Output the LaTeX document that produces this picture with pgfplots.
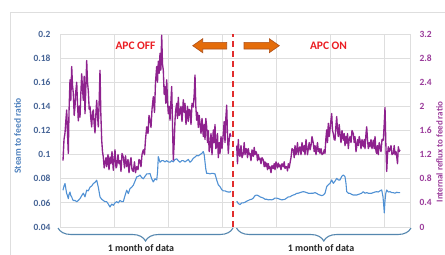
\documentclass[border=0pt]{standalone}
\usepackage{pgfplots}
\pgfplotsset{compat=1.18}
\usepackage{fontspec}
\setmainfont{Carlito}
\usetikzlibrary{decorations.pathreplacing}
\definecolor{purp}{RGB}{142,34,142}
\definecolor{rpurp}{RGB}{155,60,155}
\definecolor{bline}{RGB}{80,145,212}
\definecolor{lblue}{RGB}{70,100,150}
\definecolor{ylab}{RGB}{80,130,190}
\definecolor{gridc}{RGB}{222,222,222}
\definecolor{redt}{RGB}{235,30,35}
\definecolor{dashr}{RGB}{225,45,45}
\definecolor{orf}{RGB}{228,108,10}
\definecolor{ord}{RGB}{175,80,25}
\definecolor{brc}{RGB}{85,135,175}

\pgfplotstableread{
x y
63 0.0705
64 0.074
65 0.076
66 0.071
66.7 0.0677
67.5 0.066
68.3 0.0635
69 0.067
70 0.069
70.8 0.066
71.7 0.065
72.5 0.063
73.3 0.062
75 0.062
76.7 0.061
78.3 0.062
80 0.0635
81.7 0.066
83.3 0.068
85 0.065
86.7 0.0705
88.3 0.070
90 0.073
91.7 0.074
93.3 0.076
95 0.077
96.7 0.0788
98.3 0.073
100 0.065
101.7 0.063
103.3 0.062
105 0.061
106.7 0.061
108.3 0.059
110 0.0566
111.7 0.059
113.3 0.058
115 0.060
116.7 0.061
118.3 0.060
120 0.062
121.7 0.061
123.3 0.061
125 0.066
126.7 0.0705
128.3 0.0677
130 0.0718
131.7 0.073
133.3 0.0746
135 0.078
136.7 0.0815
138.3 0.082
140 0.083
141.7 0.081
143.3 0.080
145 0.082
146.7 0.084
148.3 0.084
150 0.0844
151.7 0.080
153.3 0.0774
155 0.080
156.7 0.079
157.5 0.085
158.3 0.0983
160 0.0937
161.7 0.095
163.3 0.095
165 0.094
166.7 0.095
168.3 0.094
170 0.0937
171.7 0.095
173.3 0.094
175 0.096
176.7 0.0965
178.3 0.095
180 0.0937
181.7 0.095
183.3 0.095
185 0.094
186.7 0.095
188.3 0.096
190 0.0937
191.7 0.095
193.3 0.097
195 0.098
196.7 0.0993
198.3 0.099
200 0.1
201.7 0.101
203.3 0.1025
204.2 0.100
205 0.094
205.8 0.088
206.7 0.0844
208.3 0.0845
210 0.084
211.7 0.0845
213.3 0.0844
215 0.084
216.7 0.079
218.3 0.075
220 0.0735
221.7 0.071
223.3 0.070
225 0.070
226.7 0.0693
228.3 0.069
230 0.069
231 0.0695
}\blueA

\pgfplotstableread{
x y
236.7 0.0614
238.3 0.0595
240 0.0586
241.7 0.060
243.3 0.060
245 0.0605
246.7 0.0614
248.3 0.062
250 0.0627
251.7 0.063
253.3 0.064
255 0.066
256.7 0.0665
258.3 0.066
260 0.065
261.7 0.0645
263.3 0.064
265 0.063
266.7 0.063
268.3 0.0625
270 0.0627
271.7 0.0625
273.3 0.063
275 0.064
276.7 0.064
278.3 0.0635
280 0.063
281.7 0.0625
283.3 0.0627
285 0.063
286.7 0.064
288.3 0.065
290 0.065
291.7 0.066
293.3 0.0665
295 0.067
296.7 0.0679
298.3 0.068
300 0.0685
301.7 0.069
303.3 0.0693
305 0.069
306.7 0.0685
308.3 0.068
310 0.0679
311.7 0.068
313.3 0.068
315 0.0685
316.7 0.0679
318.3 0.067
320 0.0665
321.7 0.066
323.3 0.0665
325 0.068
326.7 0.0735
328.3 0.075
330 0.0762
331.7 0.079
333.3 0.0762
335 0.078
336.7 0.0803
338.3 0.079
340 0.079
341.7 0.082
343.3 0.0831
345 0.0817
346 0.076
346.7 0.0693
348.3 0.068
350 0.0679
351.7 0.067
353.3 0.0665
355 0.0665
356.7 0.0665
358.3 0.067
360 0.0675
361.7 0.068
363.3 0.0693
365 0.068
366.7 0.0685
368.3 0.068
370 0.0679
371.7 0.068
373.3 0.0685
375 0.069
376.7 0.0693
378.3 0.069
380 0.070
381.7 0.0707
383 0.065
383.7 0.058
384.3 0.0517
385 0.062
385.8 0.068
386.7 0.0707
388.3 0.069
390 0.0693
391.7 0.0685
393.3 0.0685
395 0.068
396.7 0.0688
398.3 0.0685
400 0.0685
}\blueB

\pgfplotstableread{
x y
63 1.10
64 1.45
65 1.56
66 1.80
66.7 1.94
67.5 1.55
68.3 1.22
69 1.90
70 2.44
70.8 2.10
71.7 2.66
72.5 2.35
73.3 2.22
74.2 1.85
75 2.0
75.8 2.25
76.7 2.4
77.5 2.05
78.3 1.76
79.2 2.0
80 1.82
80.8 2.2
81.7 2.54
82.5 2.3
83.3 2.10
84.2 2.5
85 1.88
85.8 2.3
86.7 2.76
87.5 2.4
88.3 2.26
89.2 1.95
90 2.0
90.8 1.8
91.7 1.66
92.5 1.9
93.3 1.94
94.2 1.7
95 1.56
95.8 1.85
96.7 2.10
97.5 1.85
98.3 1.66
99.2 2.1
100 2.6
100.8 1.9
101.7 1.44
102.5 1.25
103.3 1.16
104.2 0.98
105 1.06
106 1.15
106.7 1.0
108 1.2
109 0.95
110 1.16
111 1.05
112 1.25
113.3 0.94
114 1.1
115 1.28
116 0.98
116.7 1.0
118 1.2
119 1.05
120 1.1
121 0.92
122 1.22
123.3 1.16
124.5 0.98
125.5 1.18
126.7 1.0
128 1.12
129 0.9
130 1.06
131 1.15
132 0.95
133.3 0.92
134.5 1.08
135.5 0.9
136.7 1.0
138 0.95
139 1.12
140 1.1
141 1.0
142 1.2
143.3 1.28
144.5 1.2
145.5 1.45
146.7 1.66
148 1.55
149 1.85
150 1.77
151 1.65
152 1.95
153.3 2.16
154.5 1.9
155.5 2.4
156.7 2.66
157.5 2.4
158.3 2.75
159.2 2.55
160 2.88
160.8 2.6
161.7 3.18
162.5 2.7
163.3 2.60
164.2 2.2
165 2.33
165.8 2.05
166.7 2.44
167.5 2.1
168.3 1.88
169.2 2.0
170 1.77
170.8 2.05
171.7 2.33
172.5 1.7
173.3 1.11
174.2 1.4
175 1.77
175.8 1.95
176.7 2.05
177.5 1.8
178.3 2.15
179.2 1.85
180 1.88
181 2.0
182 1.75
183.3 2.11
184.2 1.9
185 2.05
186 1.7
186.7 1.83
187.5 2.0
188.3 1.75
189.2 1.95
190 1.94
191 1.7
192 2.05
193.3 1.99
194.2 2.2
195 2.52
195.8 2.0
196.7 1.77
197.5 1.9
198.3 1.65
199.2 1.85
200 1.72
201 1.55
202 1.8
203.3 1.50
204.2 1.7
205 1.45
205.8 1.8
206.7 1.66
207.5 1.4
208.3 1.6
209.2 1.25
210 1.33
211 1.55
212 1.2
213.3 1.61
214.2 1.4
215 1.7
215.8 1.3
216.7 1.33
217.5 1.55
218.3 1.15
219.2 1.4
220 1.22
221 1.5
222 1.3
223.3 1.55
224.2 1.75
225 1.4
225.8 1.8
226.7 2.02
227.5 1.5
228.3 1.22
229.2 1.45
230 1.55
231 1.5
}\purpA

\pgfplotstableread{
x y
236.7 1.35
237.5 1.05
238.3 1.45
239.2 1.2
240 1.17
241 1.35
242 1.15
243.3 1.22
244.2 1.4
245 1.2
246 1.3
246.7 1.28
247.5 1.15
248.3 1.3
249.2 1.2
250 1.22
251 1.1
252 1.28
253.3 1.17
254.2 1.32
255 1.2
256 1.25
256.7 1.22
257.5 1.1
258.3 1.2
259.2 1.12
260 1.14
261 1.05
262 1.15
263.3 1.11
264.2 1.0
265 1.08
266 1.0
266.7 1.06
267.5 0.95
268.3 1.05
269.2 0.97
270 1.0
271 0.9
272 1.02
273.3 0.97
274.2 1.05
275 0.95
276 1.08
276.7 1.03
277.5 0.98
278.3 1.06
279.2 1.0
280 1.03
281 0.95
282 1.05
283.3 1.0
284.2 1.08
285 0.97
286 1.0
286.7 1.0
287.5 0.93
288.3 1.05
289.2 0.98
290 1.06
291 1.15
292 1.3
293.3 1.28
294.2 1.15
295 1.35
296 1.2
296.7 1.28
297.5 1.4
298.3 1.2
299.2 1.3
300 1.33
301 1.2
302 1.4
303.3 1.25
304.2 1.35
305 1.2
306 1.45
306.7 1.33
307.5 1.2
308.3 1.3
309.2 1.4
310 1.28
311 1.35
312 1.5
313.3 1.39
314.2 1.25
315 1.35
316 1.2
316.7 1.30
317.5 1.4
318.3 1.25
319.2 1.3
320 1.22
321 1.3
322 1.2
323.3 1.22
324.2 1.28
325 1.22
325.8 1.45
326.7 1.61
327.5 1.4
328.3 1.72
329.2 1.5
330 1.61
330.8 1.75
331.7 1.88
332.5 1.6
333.3 1.55
334.2 1.45
335 1.44
335.8 1.65
336.7 1.83
337.5 1.6
338.3 1.5
339.2 1.7
340 1.55
341 1.4
342 1.6
343.3 1.44
344.2 1.55
345 1.35
346 1.5
346.7 1.39
347.5 1.55
348.3 1.3
349.2 1.45
350 1.50
351 1.4
352 1.6
353.3 1.55
354.2 1.4
355 1.5
356 1.25
356.7 1.33
357.5 1.45
358.3 1.35
359.2 1.5
360 1.44
361 1.3
362 1.45
363.3 1.33
364.2 1.45
365 1.3
366 1.55
366.7 1.66
367.5 1.45
368.3 1.3
369.2 1.4
370 1.33
371 1.45
372 1.3
373.3 1.44
374.2 1.3
375 1.5
376 1.25
376.7 1.22
377.5 1.35
378.3 1.2
379.2 1.4
380 1.33
381 1.25
382 1.45
383.3 1.44
384.2 1.7
385 1.98
385.8 1.4
386.7 0.92
387.5 1.2
388.3 1.33
389.2 1.25
390 1.28
391 1.35
392 1.2
393.3 1.22
394.2 1.35
395 1.2
396 1.25
396.7 1.17
397.5 1.05
398.3 1.33
399.2 1.25
400 1.28
}\purpB

\begin{document}
\begin{tikzpicture}[x=1bp,y=1bp]
\clip (0,0) rectangle (445,254);
\fill[white] (0,0) rectangle (445,254);
\draw[gridc, line width=0.8bp] (10,-5) -- (10,242) -- (460,242);

\begin{axis}[
  at={(60bp,27bp)}, anchor=south west, scale only axis,
  width=350bp, height=193bp,
  xmin=60, xmax=410, ymin=0.04, ymax=0.2,
  xtick={114,168,222,276,330,384}, xticklabels={},
  ytick={0.04,0.06,0.08,0.1,0.12,0.14,0.16,0.18,0.2},
  yticklabels={0.04,0.06,0.08,0.1,0.12,0.14,0.16,0.18,0.2},
  grid=major, grid style={draw=gridc, line width=0.8bp},
  axis line style={draw=gridc, line width=0.8bp},
  major tick length=0pt,
  yticklabel style={font=\bfseries\fontsize{9.5}{9.5}\selectfont, text=lblue, xshift=-6bp},
]
\addplot[bline, line width=1.1bp, line join=round] table {\blueA};
\addplot[bline, line width=1.1bp, line join=round] table {\blueB};
\end{axis}

\begin{axis}[
  at={(60bp,27bp)}, anchor=south west, scale only axis,
  width=350bp, height=193bp,
  xmin=60, xmax=410, ymin=0, ymax=3.2,
  axis y line*=right, axis x line=none,
  ytick={0,0.4,0.8,1.2,1.6,2,2.4,2.8,3.2},
  yticklabels={0,0.4,0.8,1.2,1.6,2,2.4,2.8,3.2},
  axis line style={draw=gridc, line width=0.8bp},
  major tick length=0pt,
  yticklabel style={font=\bfseries\fontsize{9.5}{9.5}\selectfont, text=rpurp, xshift=6bp},
]
\addplot[purp, line width=1.35bp, line join=round] table {\purpA};
\addplot[purp, line width=1.35bp, line join=round] table {\purpB};
\addplot[dashr, line width=2bp, dash pattern=on 6bp off 4bp] coordinates {(233,0) (233,3.2)};
\end{axis}

% annotations
\node[font=\bfseries\fontsize{11.5}{12}\selectfont, text=redt] at (135.5,208) {APC OFF};
\node[font=\bfseries\fontsize{11.5}{12}\selectfont, text=redt] at (328.5,208) {APC ON};
\filldraw[fill=orf, draw=ord, line width=0.6bp]
  (192.7,208.3) -- (202.7,215.3) -- (202.7,211.6) -- (226.7,211.6) -- (226.7,205) -- (202.7,205) -- (202.7,201.3) -- cycle;
\filldraw[fill=orf, draw=ord, line width=0.6bp]
  (279.3,208.3) -- (269.3,215.3) -- (269.3,211.6) -- (244,211.6) -- (244,205) -- (269.3,205) -- (269.3,201.3) -- cycle;

\node[rotate=90, font=\bfseries\fontsize{9.5}{10}\selectfont, text=ylab] at (17.5,118) {Steam to feed ratio};
\node[rotate=90, font=\bfseries\fontsize{9}{10}\selectfont, text=rpurp, inner sep=0pt] at (439.5,102) {Internal reflux to feed ratio};

\draw[brc, line width=1.1bp, decorate, decoration={brace, mirror, amplitude=13bp}] (58,26) -- (233,26);
\draw[brc, line width=1.1bp, decorate, decoration={brace, mirror, amplitude=13bp}] (236.5,26) -- (411,26);
\node[font=\bfseries\fontsize{10}{10}\selectfont, text=black!85, inner sep=0pt] at (141,5.5) {1 month of data};
\node[font=\bfseries\fontsize{10}{10}\selectfont, text=black!85, inner sep=0pt] at (321,5.5) {1 month of data};
\end{tikzpicture}
\end{document}
